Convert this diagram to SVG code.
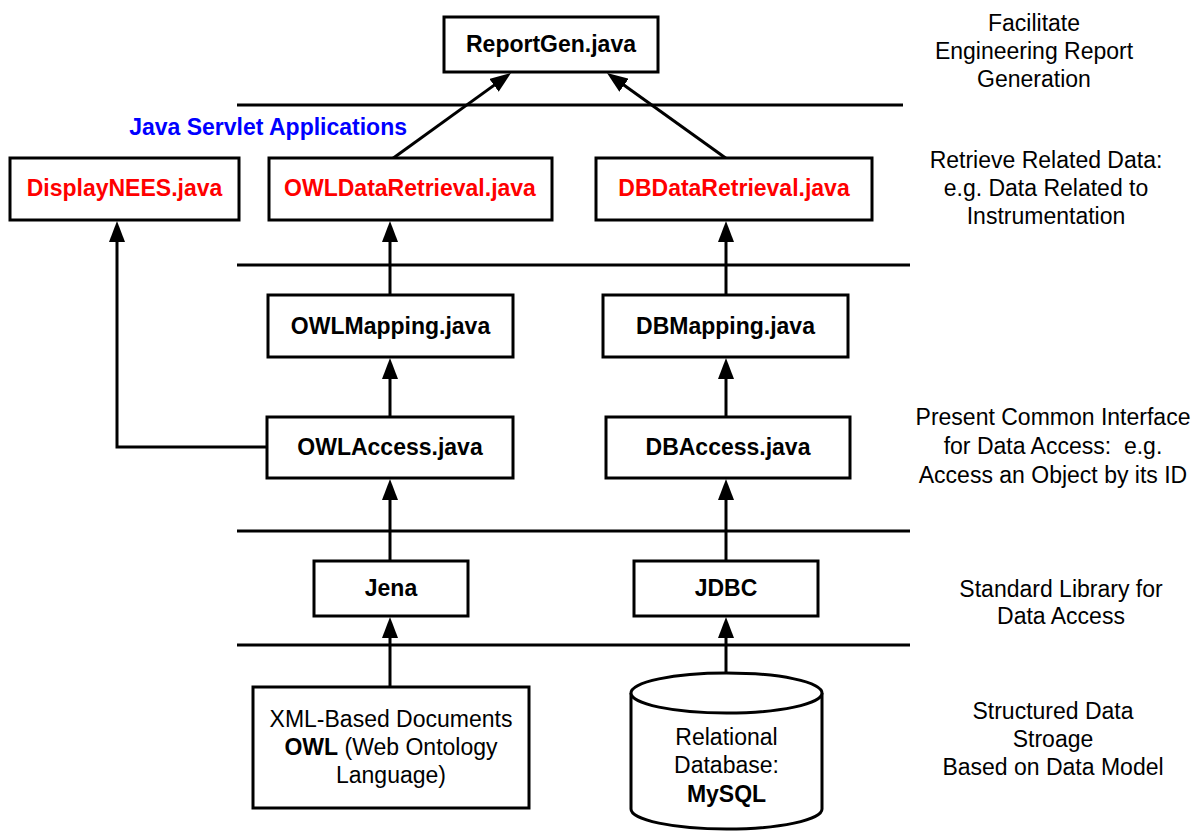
<svg xmlns="http://www.w3.org/2000/svg" width="1201" height="831" viewBox="0 0 1201 831">
<style>
  .box { fill: #fff; stroke: #000; stroke-width: 3; }
  .sep { stroke: #000; stroke-width: 3; fill: none; }
  .con { stroke: #000; stroke-width: 3; fill: none; marker-end: url(#ah); }
  .lbl { font-family: "Liberation Sans", Arial, sans-serif; font-size: 23px; font-weight: bold; text-anchor: middle; fill: #000; }
  .red { fill: #FF0000; }
  .txt { font-family: "Liberation Sans", Arial, sans-serif; font-size: 23px; text-anchor: middle; fill: #000; }
</style>
<defs>
  <marker id="ah" viewBox="0 0 21 16" refX="11" refY="8" markerWidth="21" markerHeight="16" markerUnits="userSpaceOnUse" orient="auto">
    <path d="M0,0 L21,8 L0,16 Z" fill="#000"/>
  </marker>
</defs>
<rect width="1201" height="831" fill="#fff"/>

<g id="separators">
  <line class="sep" x1="237" y1="105" x2="903" y2="105"/>
  <line class="sep" x1="237" y1="265" x2="910" y2="265"/>
  <line class="sep" x1="237" y1="531" x2="910" y2="531"/>
  <line class="sep" x1="237" y1="645" x2="910" y2="645"/>
</g>

<g id="connectors">
  <line class="con" x1="392" y1="159" x2="502.9" y2="78.9"/>
  <line class="con" x1="727" y1="159" x2="615.1" y2="78.8"/>
  <polyline class="con" points="271,447 117,447 117,231"/>
  <line class="con" x1="390" y1="295" x2="390" y2="231"/>
  <line class="con" x1="390" y1="417" x2="390" y2="368"/>
  <line class="con" x1="390" y1="561" x2="390" y2="489"/>
  <line class="con" x1="390" y1="687" x2="390" y2="627"/>
  <line class="con" x1="726" y1="295" x2="726" y2="231"/>
  <line class="con" x1="726" y1="417" x2="726" y2="368"/>
  <line class="con" x1="726" y1="561" x2="726" y2="489"/>
  <line class="con" x1="726" y1="673" x2="726" y2="627"/>
</g>

<g id="reportgen">
  <rect class="box" x="444" y="17" width="214" height="55"/>
  <text class="lbl" x="551" y="52">ReportGen.java</text>
</g>

<g id="servlet-label">
  <text x="407" y="135" font-family="Liberation Sans, Arial, sans-serif" font-size="23" font-weight="bold" fill="#0000FF" text-anchor="end">Java Servlet Applications</text>
</g>

<g id="displaynees">
  <rect class="box" x="10" y="158" width="229" height="62"/>
  <text class="lbl red" x="124.5" y="196">DisplayNEES.java</text>
</g>
<g id="owldataretrieval">
  <rect class="box" x="269" y="158" width="283" height="62"/>
  <text class="lbl red" x="410" y="196">OWLDataRetrieval.java</text>
</g>
<g id="dbdataretrieval">
  <rect class="box" x="596" y="158" width="276" height="62"/>
  <text class="lbl red" x="734" y="196">DBDataRetrieval.java</text>
</g>

<g id="owlmapping">
  <rect class="box" x="268" y="295" width="245" height="62"/>
  <text class="lbl" x="390.5" y="334">OWLMapping.java</text>
</g>
<g id="dbmapping">
  <rect class="box" x="603" y="295" width="245" height="62"/>
  <text class="lbl" x="725.5" y="334">DBMapping.java</text>
</g>

<g id="owlaccess">
  <rect class="box" x="267" y="417" width="246" height="61"/>
  <text class="lbl" x="390" y="455">OWLAccess.java</text>
</g>
<g id="dbaccess">
  <rect class="box" x="606" y="417" width="244" height="61"/>
  <text class="lbl" x="728" y="455">DBAccess.java</text>
</g>

<g id="jena">
  <rect class="box" x="314" y="561" width="154" height="55"/>
  <text class="lbl" x="391" y="596">Jena</text>
</g>
<g id="jdbc">
  <rect class="box" x="634" y="561" width="184" height="55"/>
  <text class="lbl" x="726" y="596">JDBC</text>
</g>

<g id="xmldocs">
  <rect class="box" x="253" y="687" width="276" height="121"/>
  <text class="txt" x="391" y="727">XML-Based Documents</text>
  <text class="txt" x="391" y="755"><tspan font-weight="bold">OWL</tspan> (Web Ontology</text>
  <text class="txt" x="391" y="783">Language)</text>
</g>

<g id="mysql">
  <path class="box" d="M631,693 L631,809 A95.5,20 0 0 0 822,809 L822,693"/>
  <ellipse class="box" cx="726.5" cy="693" rx="95.5" ry="20"/>
  <text class="txt" x="726.5" y="745">Relational</text>
  <text class="txt" x="726.5" y="773">Database:</text>
  <text class="lbl" x="726.5" y="802">MySQL</text>
</g>

<g id="layer-descriptions">
  <text class="txt" x="1034" y="31">Facilitate</text>
  <text class="txt" x="1034" y="59">Engineering Report</text>
  <text class="txt" x="1034" y="87">Generation</text>
  <text class="txt" x="1046" y="168">Retrieve Related Data:</text>
  <text class="txt" x="1046" y="196">e.g. Data Related to</text>
  <text class="txt" x="1046" y="224">Instrumentation</text>
  <text class="txt" x="1053" y="425">Present Common Interface</text>
  <text class="txt" x="1053" y="454" xml:space="preserve">for Data Access:  e.g.</text>
  <text class="txt" x="1053" y="483">Access an Object by its ID</text>
  <text class="txt" x="1061" y="597">Standard Library for</text>
  <text class="txt" x="1061" y="624">Data Access</text>
  <text class="txt" x="1053" y="719">Structured Data</text>
  <text class="txt" x="1053" y="747">Stroage</text>
  <text class="txt" x="1053" y="775">Based on Data Model</text>
</g>
</svg>
